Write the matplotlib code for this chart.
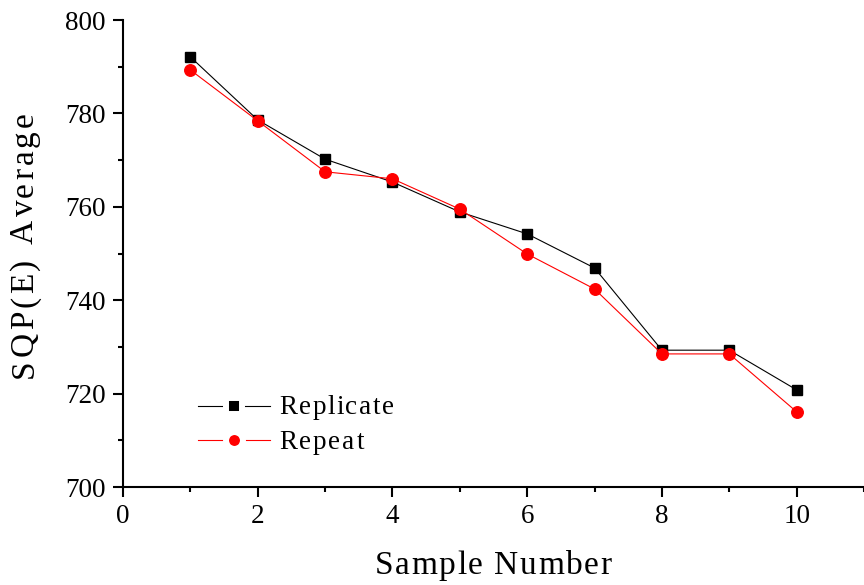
import matplotlib.pyplot as plt
from matplotlib.lines import Line2D
from matplotlib.ticker import MultipleLocator
from matplotlib.font_manager import FontProperties

# data
sample = [1, 2, 3, 4, 5, 6, 7, 8, 9, 10]
replicate = [792.1, 778.6, 770.2, 765.3, 758.9, 754.2, 746.9, 729.3, 729.3, 720.8]
repeat = [789.3, 778.4, 767.5, 766.0, 759.5, 749.9, 742.4, 728.5, 728.5, 716.1]
series_names = ['Replicate', 'Repeat']
x_title = 'Sample Number'
y_title = 'SQP(E) Average'

plt.rcParams['font.family'] = ['Liberation Serif', 'DejaVu Serif']

W, H = 864, 585
fig = plt.figure(figsize=(W / 100, H / 100), dpi=100)
ax = fig.add_axes([0.1424, 0.1675, 0.8576, 0.7983])

ax.plot(sample, replicate, color='black', lw=0.8, marker='s', ms=7.8, zorder=3)
ax.plot(sample, repeat, color='red', lw=0.8, marker='o', ms=8.3, zorder=3)

ax.set_xlim(0, 11)
ax.set_ylim(700, 800)
ax.xaxis.set_major_locator(MultipleLocator(2))
ax.xaxis.set_minor_locator(MultipleLocator(1))
ax.yaxis.set_major_locator(MultipleLocator(20))
ax.yaxis.set_minor_locator(MultipleLocator(10))

ax.spines['top'].set_visible(False)
ax.spines['right'].set_visible(False)
for s in ['left', 'bottom']:
    ax.spines[s].set_linewidth(1.5)
ax.tick_params(which='major', direction='out', length=7, width=1.5, labelsize=19.5, pad=5.5)
ax.tick_params(which='minor', direction='out', length=3.5, width=1.5)

# legend handles, white marker edge breaks the line around the marker
h1 = Line2D([], [], color='black', lw=0.8, marker='s', ms=12.2, mfc='black',
            mec='white', mew=4.3)
h2 = Line2D([], [], color='red', lw=0.8, marker='o', ms=12.2, mfc='red',
            mec='white', mew=4.3)
anchor = (190 / W, 1 - 390 / H)
leg = ax.legend([h1, h2], series_names, loc='upper left',
                bbox_to_anchor=anchor, bbox_transform=fig.transFigure,
                frameon=False, fontsize=17.5, handlelength=2.96,
                handletextpad=0.4, labelspacing=0.5)

fig.canvas.draw()
r = fig.canvas.get_renderer()

# shift legend so first handle starts at x=198, row centre y=406 (from top)
hb = leg.legend_handles[0].get_window_extent(r)
pad = 12.2 / 72 * 100 * 0.5
dx = 198 - (hb.x0 + pad)
dy = (H - 406) - (hb.y0 + hb.y1) / 2
leg.set_bbox_to_anchor((anchor[0] + dx / W, anchor[1] + dy / H), transform=fig.transFigure)
fig.canvas.draw()


def tw(t, fp):
    return r.get_text_width_height_descent(t, fp, ismath=False)[0]


def tracked(s, x, y, size, width, rotation=0, ha='center'):
    # letter-spaced text: one Text per glyph, spread to the given width
    # (x, y) = centre/left of baseline; for rotation=90 the run goes up along y
    fp = FontProperties(family='Liberation Serif', size=size)
    adv_x = tw('xx', fp) - tw('x', fp)
    adv = [tw('x' + c + 'x', fp) - tw('xx', fp) for c in s]
    lsb = [tw('x' + c, fp) - tw(c, fp) - adv_x if c != ' ' else 0 for c in s]
    track = (width - sum(adv)) / (len(s) - 1)
    start = x if rotation == 0 else y
    pos = start - width / 2 if ha == 'center' else start
    for c, a, l in zip(s, adv, lsb):
        if c != ' ':
            if rotation == 0:
                fig.text((pos + l) / W, y / H, c, fontproperties=fp,
                         ha='left', va='baseline')
            else:
                fig.text(x / W, (pos + l) / H, c, fontproperties=fp,
                         rotation=90, rotation_mode='anchor',
                         ha='left', va='baseline')
        pos += a + track


tracked(x_title, 493, H - 574, 24, 237)
tracked(y_title, 33, H - 245, 24, 266, rotation=90)

for t in leg.get_texts():
    t.set_visible(False)
for i, name in enumerate(series_names):
    hb = leg.legend_handles[i].get_window_extent(r)
    right = hb.x1 - pad
    cy = (hb.y0 + hb.y1) / 2
    tracked(name, right + 9, cy - 8.5, 19.5, [115, 85][i], ha='left')

fig.savefig('out.png', dpi=100)
